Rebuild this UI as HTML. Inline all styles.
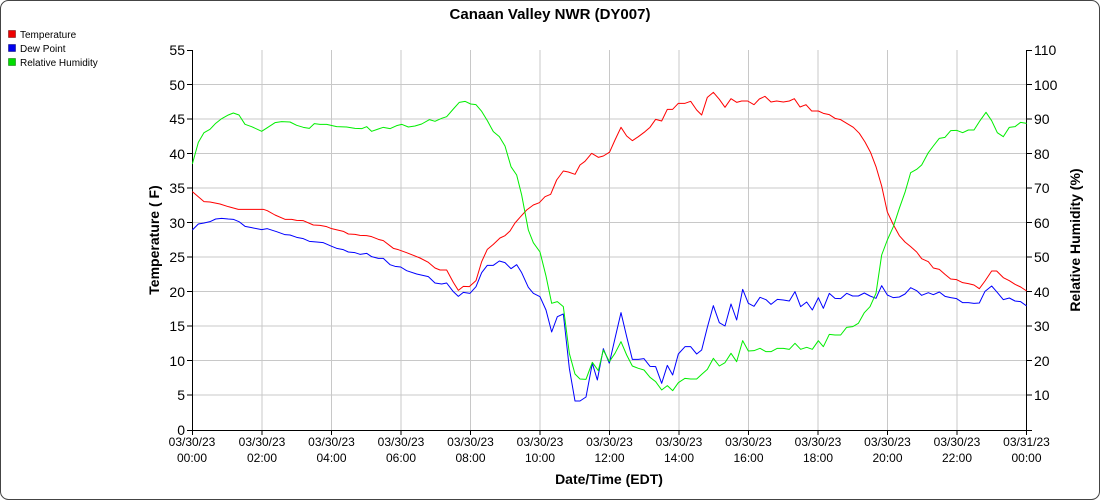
<!DOCTYPE html>
<html><head><meta charset="utf-8"><style>
body{margin:0;background:#fff;}
svg{display:block;font-family:"Liberation Sans",Arial,sans-serif;}
</style></head><body>
<svg width="1100" height="500" viewBox="0 0 1100 500">
<rect x="0.5" y="0.5" width="1099" height="499" rx="8" fill="#fff" stroke="#444"/>
<text x="550" y="19" text-anchor="middle" font-size="15" font-weight="bold">Canaan Valley NWR (DY007)</text>
<g font-size="10">
<rect x="8.5" y="30.5" width="7" height="7" fill="#e00" stroke="#600" stroke-width="0.5"/><text x="20" y="38">Temperature</text>
<rect x="8.5" y="44.5" width="7" height="7" fill="#00e" stroke="#006" stroke-width="0.5"/><text x="20" y="52">Dew Point</text>
<rect x="8.5" y="58.5" width="7" height="7" fill="#0d0" stroke="#060" stroke-width="0.5"/><text x="20" y="66">Relative Humidity</text>
</g>
<g stroke="#c8c8c8" stroke-width="1">
<line x1="192" y1="84.5" x2="1027" y2="84.5"/><line x1="192" y1="119" x2="1027" y2="119"/><line x1="192" y1="153.5" x2="1027" y2="153.5"/><line x1="192" y1="188" x2="1027" y2="188"/><line x1="192" y1="222.5" x2="1027" y2="222.5"/><line x1="192" y1="257" x2="1027" y2="257"/><line x1="192" y1="291.5" x2="1027" y2="291.5"/><line x1="192" y1="326" x2="1027" y2="326"/><line x1="192" y1="360.5" x2="1027" y2="360.5"/><line x1="192" y1="395" x2="1027" y2="395"/>
<line x1="262" y1="50" x2="262" y2="430"/><line x1="331.5" y1="50" x2="331.5" y2="430"/><line x1="401" y1="50" x2="401" y2="430"/><line x1="470.5" y1="50" x2="470.5" y2="430"/><line x1="540" y1="50" x2="540" y2="430"/><line x1="609.5" y1="50" x2="609.5" y2="430"/><line x1="679" y1="50" x2="679" y2="430"/><line x1="748.5" y1="50" x2="748.5" y2="430"/><line x1="818" y1="50" x2="818" y2="430"/><line x1="887.5" y1="50" x2="887.5" y2="430"/><line x1="957" y1="50" x2="957" y2="430"/>
</g>
<g stroke="#000" stroke-width="1" fill="none">
<line x1="192.5" y1="50" x2="192.5" y2="430"/><line x1="1026.5" y1="50" x2="1026.5" y2="430"/><line x1="192" y1="430.5" x2="1027" y2="430.5"/>
<path d="M187 50.5H192M187 84.5H192M187 119H192M187 153.5H192M187 188H192M187 222.5H192M187 257H192M187 291.5H192M187 326H192M187 360.5H192M187 395H192M187 430.5H192"/>
<path d="M1027 50.5H1032M1027 84.5H1032M1027 119H1032M1027 153.5H1032M1027 188H1032M1027 222.5H1032M1027 257H1032M1027 291.5H1032M1027 326H1032M1027 360.5H1032M1027 395H1032M1027 430.5H1032"/>
<path d="M192.5 430V435M262 430V435M331.5 430V435M401 430V435M470.5 430V435M540 430V435M609.5 430V435M679 430V435M748.5 430V435M818 430V435M887.5 430V435M957 430V435M1026.5 430V435"/>
</g>
<g font-size="14" text-anchor="end">
<text x="185" y="55">55</text><text x="185" y="90">50</text><text x="185" y="124">45</text><text x="185" y="159">40</text><text x="185" y="193">35</text><text x="185" y="228">30</text><text x="185" y="262">25</text><text x="185" y="297">20</text><text x="185" y="331">15</text><text x="185" y="366">10</text><text x="185" y="400">5</text><text x="185" y="435">0</text>
</g>
<g font-size="14">
<text x="1034" y="55">110</text><text x="1034" y="90">100</text><text x="1034" y="124">90</text><text x="1034" y="159">80</text><text x="1034" y="193">70</text><text x="1034" y="228">60</text><text x="1034" y="262">50</text><text x="1034" y="297">40</text><text x="1034" y="331">30</text><text x="1034" y="366">20</text><text x="1034" y="400">10</text>
</g>
<g font-size="12" text-anchor="middle">
<text x="192" y="446">03/30/23</text><text x="192" y="462">00:00</text>
<text x="262" y="446">03/30/23</text><text x="262" y="462">02:00</text>
<text x="331.5" y="446">03/30/23</text><text x="331.5" y="462">04:00</text>
<text x="401" y="446">03/30/23</text><text x="401" y="462">06:00</text>
<text x="470.5" y="446">03/30/23</text><text x="470.5" y="462">08:00</text>
<text x="540" y="446">03/30/23</text><text x="540" y="462">10:00</text>
<text x="609.5" y="446">03/30/23</text><text x="609.5" y="462">12:00</text>
<text x="679" y="446">03/30/23</text><text x="679" y="462">14:00</text>
<text x="748.5" y="446">03/30/23</text><text x="748.5" y="462">16:00</text>
<text x="818" y="446">03/30/23</text><text x="818" y="462">18:00</text>
<text x="887.5" y="446">03/30/23</text><text x="887.5" y="462">20:00</text>
<text x="957" y="446">03/30/23</text><text x="957" y="462">22:00</text>
<text x="1026.5" y="446">03/31/23</text><text x="1026.5" y="462">00:00</text>
</g>
<text x="609" y="484" text-anchor="middle" font-size="14" font-weight="bold">Date/Time (EDT)</text>
<text transform="translate(159,240) rotate(-90)" text-anchor="middle" font-size="14" font-weight="bold">Temperature ( F)</text>
<text transform="translate(1080,240) rotate(-90)" text-anchor="middle" font-size="14" font-weight="bold">Relative Humidity (%)</text>
<g fill="none" stroke-width="1" stroke-linejoin="round">
<g transform="translate(180,40) scale(0.33333)">
<polyline vector-effect="non-scaling-stroke" stroke="#f00" points="37,455 72,485 90,486 120,492 145,500 175,508 210,508 250,508 262,512 285,525 315,538 335,538 350,541 370,542 400,555 420,556 440,560 455,566 490,574 505,582 525,583 540,586 560,587 575,590 595,598 610,602 640,625 655,629 680,638 700,646 720,654 745,667 765,684 780,690 800,690 820,727 835,751 850,739 868,740 888,722 905,665 922,628 940,613 960,594 975,587 990,573 1005,549 1020,532 1040,510 1060,495 1078,488 1095,470 1112,463 1130,420 1150,393 1165,396 1185,403 1200,375 1215,364 1235,340 1255,352 1270,348 1288,337"/>
<polyline vector-effect="non-scaling-stroke" stroke="#00f" points="37,570 55,552 72,549 90,545 107,537 125,535 145,537 160,538 177,545 195,559 215,563 245,569 262,566 290,575 315,584 330,585 350,592 370,596 388,604 410,606 430,608 455,619 470,625 490,629 505,636 525,638 540,643 560,640 575,650 595,655 610,655 630,674 645,679 662,681 680,692 710,702 745,710 765,729 785,732 800,729 820,755 835,769 850,757 870,760 888,740 905,698 922,676 940,676 958,663 975,668 993,686 1010,674 1025,698 1045,742 1060,760 1080,770 1098,810 1115,876 1132,830 1150,822 1168,985 1185,1083 1200,1083 1218,1071 1237,970 1252,1020 1270,926 1288,970"/>
<polyline vector-effect="non-scaling-stroke" stroke="#0e0" points="37,372 55,307 72,278 90,268 107,250 125,236 145,225 160,219 177,225 195,253 215,260 245,274 262,263 285,248 305,245 330,246 350,256 370,262 388,265 403,251 420,253 440,253 470,260 500,261 525,265 545,266 560,260 575,274 595,267 610,262 630,266 650,257 665,253 685,261 705,258 725,252 748,239 765,244 785,235 800,230 820,207 838,187 855,184 872,192 888,194 905,214 922,242 940,275 958,290 975,318 993,380 1010,405 1025,465 1045,570 1060,608 1080,636 1098,708 1115,790 1132,785 1150,800 1168,940 1185,1002 1200,1017 1218,1018 1237,967 1255,992 1270,930 1288,965"/>
</g>
<g transform="translate(600,40) scale(0.33333)">
<polyline vector-effect="non-scaling-stroke" stroke="#f00" points="28,338 45,300 63,262 80,288 97,302 115,290 135,275 150,262 167,238 185,243 202,208 218,208 235,190 255,190 272,184 290,210 305,225 322,172 340,157 358,178 375,202 393,176 410,187 425,183 443,183 462,194 478,177 495,169 513,186 530,183 550,186 568,183 583,176 600,201 618,194 635,213 655,213 670,220 688,224 705,235 722,239 740,250 760,262 778,280 795,306 812,338 828,380 845,438 862,516 880,554 898,587 915,606 932,620 950,636 965,656 985,665 1000,684 1018,688 1035,703 1052,717 1070,719 1088,728 1105,731 1122,735 1138,746 1155,723 1175,693 1190,693 1210,713 1228,722 1245,733 1262,741 1280,753"/>
<polyline vector-effect="non-scaling-stroke" stroke="#00f" points="28,970 45,895 63,818 80,890 97,958 115,958 132,956 150,979 167,980 185,1030 202,976 218,1005 235,942 255,920 272,920 290,942 305,930 322,862 340,797 358,848 375,858 393,792 410,840 428,748 445,790 462,799 480,772 498,779 513,793 532,778 550,780 568,783 585,755 602,800 620,786 637,810 655,773 670,805 688,760 705,775 722,776 740,760 758,768 775,768 793,759 810,768 828,775 845,737 862,765 880,773 898,771 915,762 932,743 950,752 965,766 985,758 1000,764 1018,756 1035,769 1052,773 1070,776 1088,788 1105,788 1122,790 1138,789 1155,754 1175,738 1190,755 1210,779 1228,774 1245,783 1262,785 1280,798"/>
<polyline vector-effect="non-scaling-stroke" stroke="#0e0" points="28,965 45,940 63,905 80,945 97,978 115,985 132,990 150,1012 167,1025 185,1050 202,1037 218,1052 235,1028 255,1015 272,1017 290,1017 305,1003 322,988 340,955 358,978 375,968 393,940 410,965 428,902 445,933 462,932 480,925 498,935 513,935 532,925 550,925 568,928 585,910 602,928 620,922 637,928 655,902 670,920 688,883 705,885 722,885 740,862 758,860 775,850 793,818 810,800 828,760 845,645 862,600 880,560 898,505 915,457 932,398 950,388 965,375 985,338 1000,318 1018,295 1035,292 1052,272 1070,271 1088,278 1105,270 1122,270 1140,242 1158,217 1175,242 1192,278 1210,290 1228,262 1245,260 1262,247 1280,250"/>
</g>
</g>
</svg>
</body></html>
